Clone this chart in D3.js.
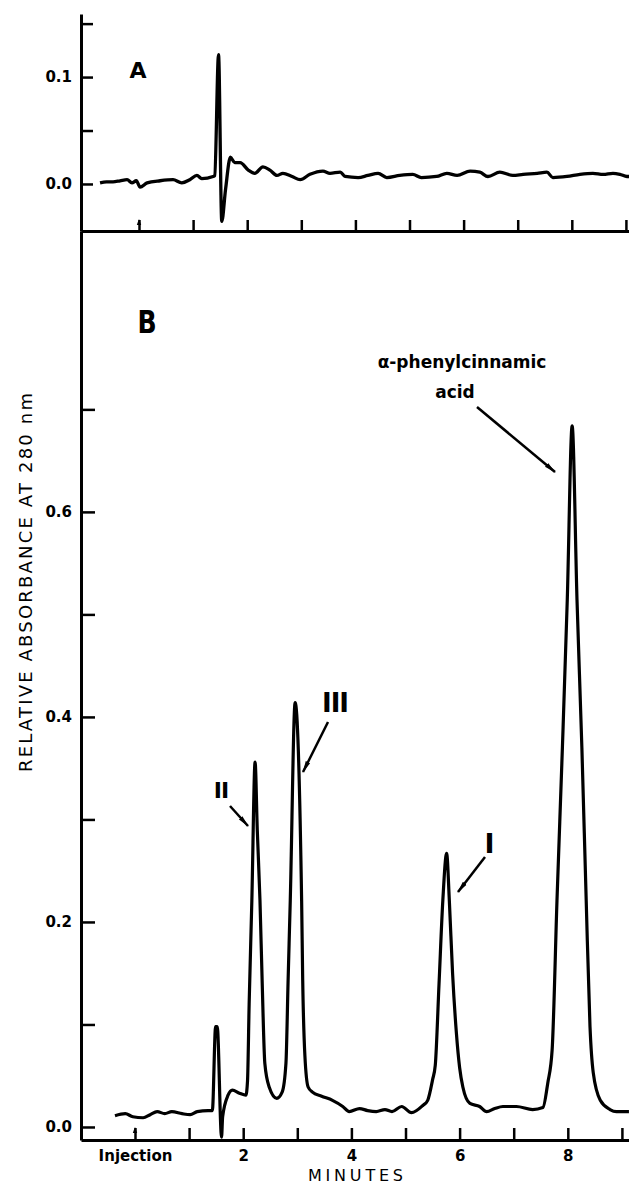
<!DOCTYPE html>
<html>
<head>
<meta charset="utf-8">
<script src="https://cdn.jsdelivr.net/npm/d3@7"></script>
<style>
  html, body { margin: 0; padding: 0; background: #fff; }
  svg { display: block; }
  text { font-family: "DejaVu Sans", "Liberation Sans", Arial, sans-serif; fill: #000; }
</style>
</head>
<body>
<svg id="chart" width="629" height="1185"></svg>
<script>
// ---------------- DATA ----------------
// Panel A trace (blank / control): time in minutes, relative absorbance
const aTime = [-0.72,-0.6,-0.48,-0.35,-0.22,-0.13,-0.05,0.02,0.15,0.39,0.63,0.79,0.94,1.07,1.16,1.37,1.4,1.47,1.53,1.6,1.69,1.77,1.87,2.02,2.14,2.29,2.42,2.55,2.66,2.83,2.98,3.16,3.4,3.53,3.72,3.81,4.05,4.23,4.42,4.58,4.82,5.06,5.22,5.5,5.69,5.88,6.12,6.3,6.45,6.67,6.91,7.1,7.36,7.54,7.65,7.91,8.15,8.39,8.58,8.76,8.89,9.02,9.06];
const aAbs  = [0.001,0.002,0.002,0.003,0.004,0.001,0.003,-0.003,0.001,0.003,0.004,0.001,0.004,0.008,0.005,0.007,0.008,0.121,-0.035,-0.005,0.025,0.02,0.02,0.013,0.01,0.016,0.013,0.008,0.01,0.007,0.004,0.009,0.012,0.01,0.011,0.007,0.006,0.008,0.01,0.006,0.008,0.009,0.006,0.007,0.01,0.008,0.012,0.011,0.007,0.011,0.008,0.009,0.01,0.011,0.006,0.007,0.009,0.01,0.009,0.01,0.009,0.007,0.007];

// Panel B trace (sample)
const bTime = [-0.37,-0.18,-0.04,0.15,0.28,0.41,0.55,0.68,0.87,1.02,1.15,1.35,1.43,1.49,1.52,1.6,1.62,1.72,1.8,1.93,2.05,2.08,2.11,2.16,2.22,2.26,2.31,2.35,2.4,2.48,2.62,2.72,2.79,2.83,2.87,2.96,3.08,3.1,3.14,3.2,3.28,3.45,3.65,3.84,3.96,4.15,4.3,4.46,4.62,4.75,4.93,5.11,5.32,5.41,5.5,5.55,5.62,5.69,5.76,5.81,5.87,5.94,6.0,6.06,6.19,6.37,6.5,6.65,6.8,7.05,7.35,7.54,7.63,7.71,7.8,7.9,7.99,8.08,8.17,8.26,8.34,8.41,8.47,8.6,8.78,8.9,9.13];
const bAbs  = [0.011,0.013,0.010,0.009,0.012,0.015,0.013,0.015,0.013,0.012,0.015,0.016,0.016,0.098,0.098,-0.010,0.01,0.031,0.036,0.033,0.031,0.045,0.12,0.221,0.356,0.29,0.221,0.143,0.062,0.039,0.028,0.034,0.062,0.143,0.221,0.414,0.221,0.143,0.07,0.039,0.034,0.030,0.026,0.020,0.015,0.018,0.016,0.015,0.017,0.015,0.020,0.014,0.021,0.026,0.046,0.06,0.14,0.221,0.267,0.221,0.15,0.092,0.058,0.039,0.023,0.020,0.015,0.018,0.020,0.020,0.017,0.019,0.043,0.075,0.221,0.37,0.514,0.684,0.514,0.37,0.221,0.098,0.053,0.026,0.017,0.015,0.015];

// Axis ticks
const xTickValues = [0,1,2,3,4,5,6,7,8,9];
const xTickLabels = ["Injection","","2","","4","","6","","8",""];
const yATickValues = [0,0.05,0.1,0.15];
const yATickLabels = ["0.0","","0.1",""];
const yBTickValues = [0,0.1,0.2,0.3,0.4,0.5,0.6,0.7];
const yBTickLabels = ["0.0","","0.2","","0.4","","0.6",""];

// Peak annotations
const peakLabels = ["II","III","I","α-phenylcinnamic","acid"];

// ---------------- LAYOUT ----------------
const svg = d3.select("#chart");
const axisX = 81, rightX = 629;
const panelATop = 14, panelABottom = 231, panelBBottom = 1140;

const xA = d3.scaleLinear().domain([-1.072, 9.057]).range([axisX, rightX]);
const xB = d3.scaleLinear().domain([-0.998, 9.131]).range([axisX, rightX]);
const yA = d3.scaleLinear().domain([-0.044, 0.159]).range([panelABottom, panelATop]);
const yB = d3.scaleLinear().domain([-0.0127, 0.874]).range([panelBBottom, panelABottom]);

svg.append("rect").attr("width",629).attr("height",1185).attr("fill","#fff");

function styleAxis(g, tickW) {
  g.select(".domain").attr("stroke","#000").attr("stroke-width",3);
  g.selectAll(".tick line").attr("stroke","#000").attr("stroke-width",tickW);
}

// ---- Panel A axes
const gAy = svg.append("g").attr("transform",`translate(${axisX},0)`)
  .call(d3.axisLeft(yA).tickValues(yATickValues).tickSizeInner(-12).tickSizeOuter(0).tickPadding(9)
    .tickFormat((d,i)=>yATickLabels[i]));
styleAxis(gAy, 2.5);
gAy.selectAll("text").attr("font-size",15).attr("font-weight","bold").attr("font-family","DejaVu Sans");

const gAx = svg.append("g").attr("transform",`translate(0,${panelABottom})`)
  .call(d3.axisBottom(xA).tickValues(xTickValues).tickSizeInner(-11).tickSizeOuter(0).tickFormat(""));
styleAxis(gAx, 2.5);

// ---- Panel B axes
const gBy = svg.append("g").attr("transform",`translate(${axisX},0)`)
  .call(d3.axisLeft(yB).tickValues(yBTickValues).tickSizeInner(-14).tickSizeOuter(0).tickPadding(9)
    .tickFormat((d,i)=>yBTickLabels[i]));
styleAxis(gBy, 2.5);
gBy.selectAll("text").attr("font-size",15).attr("font-weight","bold").attr("font-family","DejaVu Sans");

const gBx = svg.append("g").attr("transform",`translate(0,${panelBBottom})`)
  .call(d3.axisBottom(xB).tickValues(xTickValues).tickSizeInner(-12).tickSizeOuter(0).tickPadding(10)
    .tickFormat((d,i)=>xTickLabels[i]));
styleAxis(gBx, 2.5);
gBx.selectAll("text").attr("font-size",15).attr("font-weight","bold").attr("font-family","DejaVu Sans");

// injection arrow tips on tick 0
[[xA, panelABottom, 11],[xB, panelBBottom, 12]].forEach(([xs, y0, len]) => {
  const x0 = xs(0);
  svg.append("path")
    .attr("d", `M${x0-2.2},${y0-len+5} L${x0},${y0-len-1} L${x0+2.2},${y0-len+5} Z`)
    .attr("fill","#000");
});

// ---- Traces
const lineA = d3.line().x(d=>xA(d[0])).y(d=>yA(d[1])).curve(d3.curveMonotoneX);
const lineB = d3.line().x(d=>xB(d[0])).y(d=>yB(d[1])).curve(d3.curveMonotoneX);
svg.append("path").datum(d3.zip(aTime,aAbs)).attr("d",lineA)
  .attr("fill","none").attr("stroke","#000").attr("stroke-width",3.3).attr("stroke-linejoin","round");
svg.append("path").datum(d3.zip(bTime,bAbs)).attr("d",lineB)
  .attr("fill","none").attr("stroke","#000").attr("stroke-width",3.2).attr("stroke-linejoin","round");

// ---- Panel letters
svg.append("text").attr("x",138).attr("y",78).attr("text-anchor","middle")
  .attr("font-size",22).attr("font-weight","bold").text("A");
svg.append("text").attr("transform","translate(147,333) scale(1.05,1.35)").attr("text-anchor","middle")
  .attr("font-size",24).attr("font-weight","bold").text("B");

// ---- Axis titles
svg.append("text").attr("transform","translate(32,582.5) rotate(-90)").attr("text-anchor","middle")
  .attr("font-size",18).attr("textLength",379).attr("lengthAdjust","spacing")
  .text("RELATIVE ABSORBANCE AT 280 nm");
svg.append("text").attr("x",355.5).attr("y",1181).attr("text-anchor","middle")
  .attr("font-size",16).attr("textLength",95).attr("lengthAdjust","spacing").text("MINUTES");

// ---- Annotations
const defs = svg.append("defs");
defs.append("marker").attr("id","ah").attr("viewBox","0 0 12 6").attr("refX",11).attr("refY",3)
  .attr("markerWidth",12).attr("markerHeight",6).attr("markerUnits","userSpaceOnUse").attr("orient","auto")
  .append("path").attr("d","M0,0.6 L12,3 L0,5.4 Z").attr("fill","#000");

const arrows = [
  [230,806,248,826],
  [328,722,303,772],
  [485,857,458,892],
  [477,407,555,472]
];
arrows.forEach(a => svg.append("line").attr("x1",a[0]).attr("y1",a[1]).attr("x2",a[2]).attr("y2",a[3])
  .attr("stroke","#000").attr("stroke-width",2.5).attr("marker-end","url(#ah)"));

const romanPos = [[221,798,22],[335,712,26],[489,853,27]];
romanPos.forEach((p,i) => svg.append("text").attr("x",p[0]).attr("y",p[1]).attr("text-anchor","middle")
  .attr("font-family","Liberation Serif, DejaVu Serif, serif").attr("font-weight","bold")
  .attr("font-size",p[2]).attr("letter-spacing",-1).text(peakLabels[i]));

svg.append("text").attr("x",462).attr("y",368).attr("text-anchor","middle")
  .attr("font-size",17).attr("font-weight","bold").text(peakLabels[3]);
svg.append("text").attr("x",455).attr("y",398).attr("text-anchor","middle")
  .attr("font-size",17).attr("font-weight","bold").text(peakLabels[4]);
</script>
</body>
</html>
